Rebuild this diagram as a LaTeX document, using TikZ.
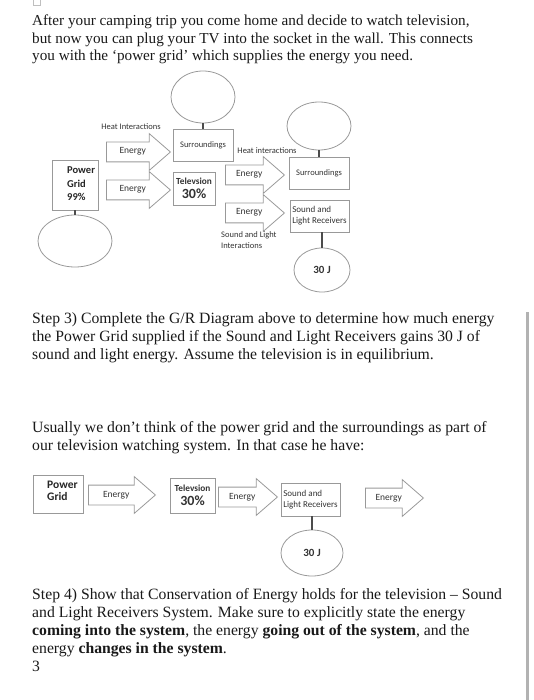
\documentclass[tikz,border=0pt]{standalone}
\usepackage{fontspec}
\setmainfont{Liberation Serif}
\newfontfamily\calibri{Carlito}
\usetikzlibrary{shapes.geometric,shapes.arrows}
\definecolor{boxgray}{gray}{0.6}
\definecolor{inkgray}{gray}{0.2}

\tikzset{
  para/.style={anchor=base west, align=left, inner sep=0pt, text=black!90},
  grbox/.style={draw=boxgray, line width=0.8pt, rectangle, inner sep=0pt, text=inkgray},
  groval/.style={draw=boxgray, line width=0.8pt, ellipse, inner sep=0pt, text=inkgray},
  grlink/.style={draw=black!70, line width=1.3pt},
  energy/.style={single arrow, draw=boxgray, line width=0.8pt, anchor=tail,
    single arrow head extend=8.5pt, single arrow tip angle=82, minimum width=0pt,
    inner xsep=2pt, inner ysep=5.5pt, text height=6pt, text depth=2pt,
    font=\calibri\fontsize{9.5}{10}\selectfont, text=inkgray},
  tag/.style={font=\calibri\fontsize{8.5}{10.5}\selectfont, text=inkgray, inner sep=0pt},
  gridtext/.style={anchor=base west, align=left, inner sep=0pt, text=black!85},
  tvbox/.style={grbox, align=center, font=\calibri\bfseries\fontsize{9.3}{14}\selectfont}
}
\newcommand{\tvpct}{{\fontsize{14}{14}\selectfont 30\%}}

\begin{document}
\begin{tikzpicture}[x=1pt,y=-1pt]
\useasboundingbox (0,0) rectangle (534,700);
\draw[gray!50, line width=0.5pt] (33.5,-1) rectangle (40,5.5);
\fill[gray!60] (526,312) rectangle (529,700);

\node[para, font=\fontsize{15.2}{17.5}\selectfont] (intro) at (32,61)
  {After your camping trip you come home and decide to watch television,\\
   but now you can plug your TV into the socket in the wall. This connects\\
   you with the ‘power grid’ which supplies the energy you need.};

% G/R diagram, full version
\node[grbox, minimum width=46, minimum height=50] (grid1) at (75,185) {};
\node[gridtext, font=\calibri\bfseries\fontsize{10.5}{13.5}\selectfont] (grid1txt) at (67,201) {Power\\Grid\\99\%};
\node[groval, minimum width=74, minimum height=52] (grid1oval) at (75,241) {};
\draw[grlink] (grid1) -- (grid1oval);

\node[tag] (heat1) at (131,127) {Heat Interactions};
\node[energy, minimum height=64] (in1) at (106,152) {Energy};
\node[energy, minimum height=64] (in2) at (106,190) {Energy};

\node[grbox, minimum width=60, minimum height=32, font=\calibri\fontsize{8.5}{10}\selectfont] (surr1) at (203,145) {Surroundings};
\node[groval, minimum width=64, minimum height=52] (surr1oval) at (203,97) {};
\draw[grlink] (surr1) -- (surr1oval);
\node[tvbox, minimum width=42, minimum height=33] (tv1) at (194,188.5) {Televsion\\\tvpct};

\node[tag] (heat2) at (267,151) {Heat interactions};
\node[energy, minimum height=59] (out1) at (225,175) {Energy};
\node[energy, minimum height=59] (out2) at (225,213) {Energy};
\node[tag, anchor=base west, align=left] (slint) at (221,248.5) {Sound and Light\\Interactions};

\node[grbox, minimum width=60, minimum height=32, font=\calibri\fontsize{8.5}{10}\selectfont] (surr2) at (319,173) {Surroundings};
\node[groval, minimum width=64, minimum height=48] (surr2oval) at (319,126) {};
\draw[grlink] (surr2) -- (surr2oval);
\node[grbox, minimum width=59, minimum height=32, align=left, font=\calibri\fontsize{9}{11}\selectfont] (slr1) at (319.5,216) {Sound and\\Light Receivers};
\node[groval, minimum width=56, minimum height=44, font=\calibri\bfseries\fontsize{11}{11}\selectfont] (slr1oval) at (322,270) {30 J};
\draw[grlink] (slr1oval.north) -- (slr1oval.north |- slr1.south);

\node[para, font=\fontsize{15.7}{18}\selectfont] (step3) at (32,359.3)
  {Step 3) Complete the G/R Diagram above to determine how much energy\\
   the Power Grid supplied if the Sound and Light Receivers gains 30 J of\\
   sound and light energy. Assume the television is in equilibrium.};
\node[para, font=\fontsize{15.7}{18}\selectfont] (usual) at (32,450.7)
  {Usually we don’t think of the power grid and the surroundings as part of\\
   our television watching system. In that case he have:};

% G/R diagram, system only
\node[grbox, minimum width=50, minimum height=38] (grid2) at (58,494) {};
\node[gridtext, font=\calibri\bfseries\fontsize{11.5}{12}\selectfont] (grid2txt) at (47,500) {Power\\Grid};
\node[energy, minimum height=67] (in3) at (88,495) {Energy};
\node[tvbox, minimum width=45, minimum height=35] (tv2) at (192.5,495.5) {Televsion\\\tvpct};
\node[energy, minimum height=59] (out3) at (218,497) {Energy};
\node[grbox, minimum width=59, minimum height=33, align=left, font=\calibri\fontsize{9}{11}\selectfont] (slr2) at (310.5,499.5) {Sound and\\Light Receivers};
\node[groval, minimum width=62, minimum height=46, font=\calibri\bfseries\fontsize{11}{11}\selectfont] (slr2oval) at (312,553) {30 J};
\draw[grlink] (slr2oval.north) -- (slr2oval.north |- slr2.south);
\node[energy, minimum height=58] (out4) at (365,498) {Energy};

\node[para, font=\fontsize{15.7}{18}\selectfont] (step4) at (32,671.3)
  {Step 4) Show that Conservation of Energy holds for the television -- Sound\\
   and Light Receivers System. Make sure to explicitly state the energy\\
   \textbf{coming into the system}, the energy \textbf{going out of the system}, and the\\
   energy \textbf{changes in the system}.\\
   3};
\end{tikzpicture}
\end{document}
